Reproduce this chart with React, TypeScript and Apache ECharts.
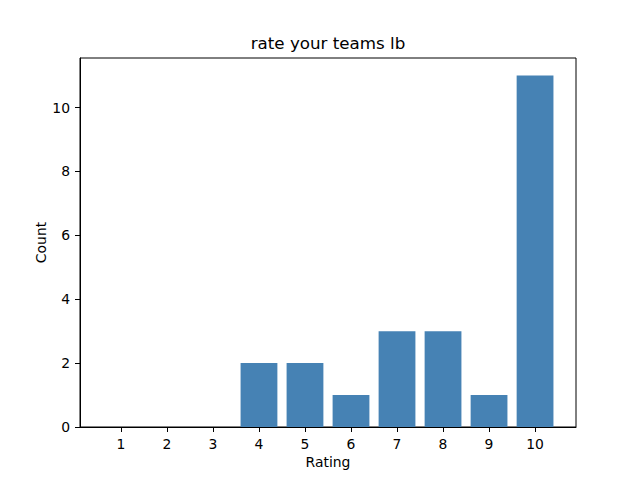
import React, { useEffect, useRef } from "react";
import * as echarts from "echarts";

const ratings = [1, 2, 3, 4, 5, 6, 7, 8, 9, 10];
const counts = [0, 0, 0, 2, 2, 1, 3, 3, 1, 11];
const yTicks = [0, 2, 4, 6, 8, 10];
const titleText = "rate your teams lb";
const xName = "Rating";
const yName = "Count";

export default function App() {
  const ref = useRef<HTMLDivElement>(null);
  useEffect(() => {
    if (!ref.current) return;
    const chart = echarts.init(ref.current, null, { renderer: "svg" });
    const font = "DejaVu Sans";
    chart.setOption({
      animation: false,
      backgroundColor: "#ffffff",
      textStyle: { fontFamily: font },
      graphic: [
        {
          type: "text",
          x: 328,
          y: 43,
          style: {
            text: titleText,
            font: `16.7px "${font}"`,
            fill: "#000",
            textAlign: "center",
            textVerticalAlign: "middle",
          },
        },
      ],
      grid: {
        left: 80,
        right: 64,
        top: 58,
        bottom: 53,
        show: true,
        borderColor: "#000",
        borderWidth: 1,
        backgroundColor: "transparent",
      },
      xAxis: {
        type: "value",
        min: 0.11,
        max: 10.89,
        name: xName,
        nameLocation: "middle",
        nameGap: 28,
        nameMoveOverlap: false,
        nameTextStyle: { fontFamily: font, fontSize: 13.9, color: "#000" },
        splitLine: { show: false },
        axisLine: { show: true, onZero: false, lineStyle: { color: "#000", width: 1 } },
        axisTick: { show: true, length: 5, lineStyle: { color: "#000" }, customValues: ratings },
        axisLabel: {
          customValues: ratings,
          margin: 10,
          fontFamily: font,
          fontSize: 13.9,
          color: "#000",
        },
      },
      yAxis: {
        type: "value",
        min: 0,
        max: 11.55,
        name: yName,
        nameLocation: "middle",
        nameGap: 32,
        nameMoveOverlap: false,
        nameTextStyle: { fontFamily: font, fontSize: 13.9, color: "#000" },
        splitLine: { show: false },
        axisLine: { show: true, lineStyle: { color: "#000", width: 1 } },
        axisTick: { show: true, length: 5, lineStyle: { color: "#000" }, customValues: yTicks },
        axisLabel: {
          customValues: yTicks,
          margin: 10,
          fontFamily: font,
          fontSize: 13.9,
          color: "#000",
        },
      },
      series: [
        {
          type: "bar",
          data: ratings.map((r, i) => [r, counts[i]]),
          barWidth: 36.8,
          itemStyle: { color: "#4682B4" },
        },
      ],
    });
    return () => chart.dispose();
  }, []);
  return (
    <div
      ref={ref}
      style={{ position: "absolute", left: 0, top: 0, width: 640, height: 480 }}
    />
  );
}
